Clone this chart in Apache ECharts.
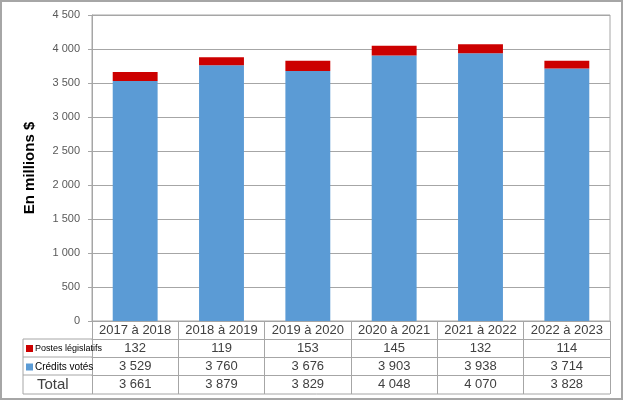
<!DOCTYPE html>
<html><head><meta charset="utf-8">
<script src="https://cdn.jsdelivr.net/npm/echarts@6/dist/echarts.min.js"></script>
<style>html,body{margin:0;padding:0;background:#fff}#c{width:626px;height:403px}</style>
</head><body><div id="c"></div>
<script>
var categories = ["2017 à 2018","2018 à 2019","2019 à 2020","2020 à 2021","2021 à 2022","2022 à 2023"];
var postesLegislatifs = [132,119,153,145,132,114];
var creditsVotes = [3529,3760,3676,3903,3938,3714];
var totals = [3661,3879,3829,4048,4070,3828];
var yTicks = {min:0, max:4500, interval:500};

function fmt(v){ return String(v).replace(/\B(?=(\d{3})+(?!\d))/g,' '); }

var FONT = '"Liberation Sans", Arial, sans-serif';
var GRID = {left:92, right:16, top:15, bottom:82};
var W = 626, H = 403;
var axisBottom = H - GRID.bottom;   // 321
var ROW = 18;
var tableLeft = 23;
var tableBottom = axisBottom + 73;
var lineColor = '#a6a6a6';
var textColor = '#404040';

var chart = echarts.init(document.getElementById('c'));

function rowAxis(values, offset){
  return {
    type:'category', data: values.map(fmt), position:'bottom', offset: offset,
    axisLine:{show:true, lineStyle:{color:lineColor, width:1}},
    axisTick:{show:false},
    axisLabel:{fontFamily:FONT, fontSize:13, color:textColor, margin:3, interval:0},
    splitLine:{show:false}
  };
}

var graphics = [
  {type:'rect', shape:{x:1, y:1, width:W-5, height:H-5}, style:{fill:null, stroke:'#a6a6a6', lineWidth:2}, silent:true},
  {type:'line', shape:{x1:tableLeft, y1:axisBottom+ROW, x2:GRID.left, y2:axisBottom+ROW}, style:{stroke:lineColor, lineWidth:1}},
  {type:'line', shape:{x1:tableLeft, y1:axisBottom+2*ROW, x2:GRID.left, y2:axisBottom+2*ROW}, style:{stroke:lineColor, lineWidth:1}},
  {type:'line', shape:{x1:tableLeft, y1:axisBottom+3*ROW, x2:GRID.left, y2:axisBottom+3*ROW}, style:{stroke:lineColor, lineWidth:1}},
  {type:'line', shape:{x1:tableLeft, y1:tableBottom, x2:W-GRID.right, y2:tableBottom}, style:{stroke:lineColor, lineWidth:1}},
  {type:'line', shape:{x1:tableLeft, y1:axisBottom+ROW, x2:tableLeft, y2:tableBottom}, style:{stroke:lineColor, lineWidth:1}},
  {type:'text', left:37, top:axisBottom+3*ROW+2, style:{text:'Total', font:'15px '+FONT, fill:textColor}}
];

chart.setOption({
  animation:false,
  backgroundColor:'#fff',
  textStyle:{fontFamily:FONT},
  grid:{left:GRID.left, right:GRID.right, top:GRID.top, bottom:GRID.bottom, show:true, borderColor:lineColor, borderWidth:1},
  legend:[
    {data:['Postes législatifs'], left:tableLeft+3, top:axisBottom+ROW+5, icon:'rect', itemWidth:7, itemHeight:7, itemGap:2,
     textStyle:{fontFamily:FONT, fontSize:9, color:'#000', padding:[0,0,0,-3]}, padding:0},
    {data:['Crédits votés'], left:tableLeft+3, top:axisBottom+2*ROW+5, icon:'rect', itemWidth:7, itemHeight:7, itemGap:2,
     textStyle:{fontFamily:FONT, fontSize:10, color:'#000', padding:[0,0,0,-3]}, padding:0}
  ],
  xAxis:[
    {type:'category', data:categories, position:'bottom',
     axisLine:{show:true, lineStyle:{color:lineColor, width:1}},
     axisTick:{show:true, length:73, lineStyle:{color:lineColor, width:1}},
     axisLabel:{fontFamily:FONT, fontSize:13, color:textColor, margin:3, interval:0},
     splitLine:{show:false}},
    rowAxis(postesLegislatifs, ROW),
    rowAxis(creditsVotes, 2*ROW),
    rowAxis(totals, 3*ROW)
  ],
  yAxis:{
    type:'value', min:yTicks.min, max:yTicks.max, interval:yTicks.interval,
    name:'En millions $', nameLocation:'middle', nameGap:55,
    nameTextStyle:{fontFamily:FONT, fontSize:15, fontWeight:'bold', color:'#000'},
    axisLine:{show:true, lineStyle:{color:lineColor}},
    axisTick:{show:true, length:4, lineStyle:{color:lineColor}},
    axisLabel:{fontFamily:FONT, fontSize:11, color:'#595959', margin:12, formatter:fmt},
    splitLine:{show:true, lineStyle:{color:lineColor, width:1}}
  },
  series:[
    {name:'Crédits votés', type:'bar', stack:'t', data:creditsVotes, barWidth:'52%', itemStyle:{color:'#5b9bd5'}, xAxisIndex:0},
    {name:'Postes législatifs', type:'bar', stack:'t', data:postesLegislatifs, barWidth:'52%', itemStyle:{color:'#cc0000'}, xAxisIndex:0}
  ],
  graphic:graphics
});
</script></body></html>
